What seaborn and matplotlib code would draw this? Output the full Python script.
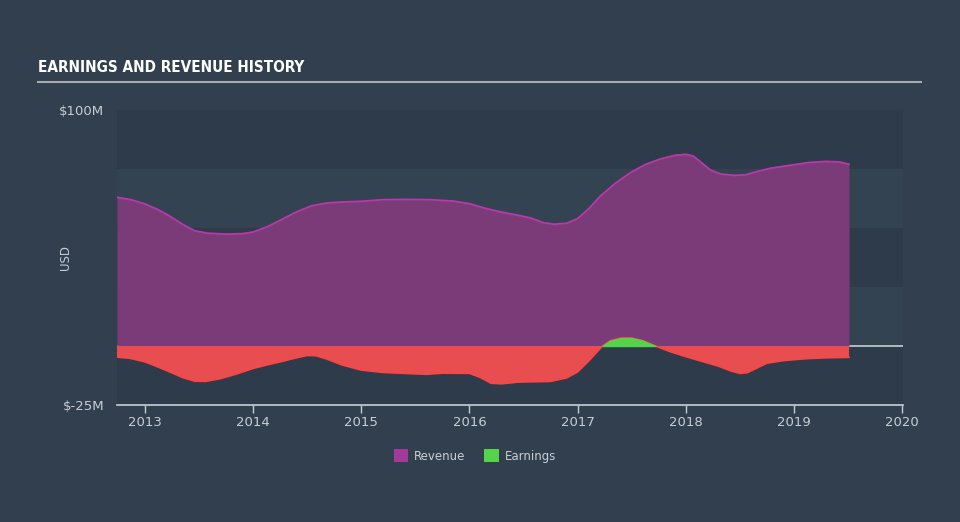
import numpy as np
import pandas as pd
import matplotlib
matplotlib.use("Agg")
import matplotlib.pyplot as plt
from matplotlib.patches import Patch
import seaborn as sns

# ---- data (USD millions) ----
rev_t = [2012.74, 2012.87, 2013.0, 2013.12, 2013.23, 2013.35, 2013.46, 2013.58, 2013.75,
         2013.9, 2014.0, 2014.13, 2014.26, 2014.4, 2014.54, 2014.68, 2014.82, 2015.0,
         2015.2, 2015.4, 2015.64, 2015.85, 2016.0, 2016.15, 2016.29, 2016.45, 2016.57,
         2016.68, 2016.78, 2016.9, 2017.0, 2017.1, 2017.21, 2017.35, 2017.49, 2017.63,
         2017.77, 2017.9, 2018.0, 2018.07, 2018.15, 2018.23, 2018.33, 2018.45, 2018.55,
         2018.65, 2018.78, 2019.0, 2019.15, 2019.3, 2019.42, 2019.51]
rev_v = [63, 62, 60.2, 57.8, 55, 51.5, 48.8, 47.8, 47.4, 47.6, 48.3, 50.5, 53.5, 56.8,
         59.4, 60.6, 61, 61.3, 62, 62.1, 62, 61.4, 60.3, 58.3, 56.8, 55.4, 54.2, 52.3,
         51.6, 52.0, 54, 58, 63.5, 69, 73.5, 77, 79.3, 80.8, 81.2, 80.5, 77.5, 74.5,
         72.8, 72.3, 72.5, 73.8, 75.3, 76.8, 77.8, 78.2, 78, 77]

earn_t = [2012.74, 2012.86, 2013.0, 2013.1, 2013.23, 2013.35, 2013.46, 2013.56, 2013.7,
          2013.85, 2014.0, 2014.13, 2014.26, 2014.4, 2014.5, 2014.58, 2014.68, 2014.82,
          2015.0, 2015.2, 2015.4, 2015.6, 2015.75, 2016.0, 2016.1, 2016.2, 2016.3,
          2016.45, 2016.75, 2016.9, 2017.0, 2017.1, 2017.2, 2017.23, 2017.3, 2017.4,
          2017.5, 2017.6, 2017.72, 2017.85, 2018.0, 2018.15, 2018.3, 2018.42, 2018.5,
          2018.57, 2018.66, 2018.75, 2018.9, 2019.1, 2019.3, 2019.51]
earn_v = [-4.7, -5.2, -6.7, -8.5, -11, -13.4, -14.9, -15, -13.8, -11.8, -9.5, -8, -6.6,
          -5, -4, -4.1, -5.5, -8, -10.2, -11.2, -11.6, -12, -11.5, -11.6, -13.3, -15.8,
          -16, -15.3, -15, -13.5, -11, -6.5, -1.5, 0, 2.2, 3.4, 3.4, 2.3, 0, -2.3, -4.5,
          -6.5, -8.5, -10.6, -11.6, -11.3, -9.3, -7.3, -6.2, -5.4, -5, -4.8]

year_ticks = [2013, 2014, 2015, 2016, 2017, 2018, 2019, 2020]
y_ticks = [-25, 100]
y_labels = ["$-25M", "$100M"]

rev = pd.DataFrame({"t": rev_t, "v": rev_v})
earn = pd.DataFrame({"t": earn_t, "v": earn_v})

BG = "#313f4f"
TXT = "#c9ced4"
fig = plt.figure(figsize=(9.6, 5.22), dpi=100, facecolor=BG)
ax = fig.add_axes([117/960, (522-405)/522, 786/960, 295/522])
ax.set_facecolor("#2f3c4b")

ax.set_xlim(2012.741, 2020.009)
ax.set_ylim(-25, 100)

# alternating horizontal bands
for i, (lo, hi) in enumerate([(-25, 0), (0, 25), (25, 50), (50, 75), (75, 100)]):
    ax.axhspan(lo, hi, color="#2e3b4a" if i % 2 == 0 else "#334352", zorder=0, lw=0)

ax.axhline(0, color=TXT, lw=1.2, zorder=1)

# revenue
ax.fill_between(rev["t"], 0, rev["v"], color="#7b3a78", lw=0, zorder=2)
sns.lineplot(data=rev, x="t", y="v", ax=ax, color="#b83aa8", lw=1.3, zorder=3)

# earnings
et = np.array(earn_t); ev = np.array(earn_v)
ax.fill_between(et, 0, ev, where=ev <= 0, interpolate=True, color="#e84e4f", lw=0, zorder=4)
sns.lineplot(data=earn, x="t", y="v", ax=ax, color="#ff4444", lw=1.2, zorder=5)
ax.fill_between(et, 0, ev, where=ev >= 0, interpolate=True, color="#55d44b",
                edgecolor="#55d44b", lw=1.0, zorder=6)

# axes styling
for s in ["top", "right", "left"]:
    ax.spines[s].set_visible(False)
ax.spines["bottom"].set_color(TXT)
ax.spines["bottom"].set_linewidth(1.2)
ax.set_xticks(year_ticks)
ax.set_xticklabels([str(y) for y in year_ticks])
ax.tick_params(axis="x", colors=TXT, length=6, width=1, labelsize=9.5, pad=2)
ax.set_yticks(y_ticks)
ax.set_yticklabels(y_labels)
ax.tick_params(axis="y", length=0, labelsize=9.5, labelcolor=TXT, pad=9)
ax.set_xlabel("")
ax.set_ylabel("")
fig.text(65/960, 1 - 258/522, "USD", rotation=90, color=TXT, fontsize=8.5,
         ha="center", va="center")

# title and rule
fig.text(38/960, 1 - 68/522, "EARNINGS AND REVENUE HISTORY", color="white",
         fontsize=11, fontweight="bold", fontstretch="condensed",
         family=["DejaVu Sans"], va="center", ha="left")
fig.add_artist(plt.Line2D([38/960, 921/960], [1 - 82/522, 1 - 82/522],
                          color="#a6abb2", lw=1.5, transform=fig.transFigure))

# legend
handles = [Patch(facecolor="#a23a9b", edgecolor="none", label="Revenue"),
           Patch(facecolor="#55d44b", edgecolor="none", label="Earnings")]
leg = fig.legend(handles=handles, loc="center", bbox_to_anchor=(475/960, 1 - 456/522),
                 ncol=2, frameon=False, fontsize=8.5, handlelength=1.2, handleheight=1.2,
                 columnspacing=1.6, handletextpad=0.5)
for t in leg.get_texts():
    t.set_color(TXT)

fig.savefig("out.png", dpi=100, facecolor=BG)
